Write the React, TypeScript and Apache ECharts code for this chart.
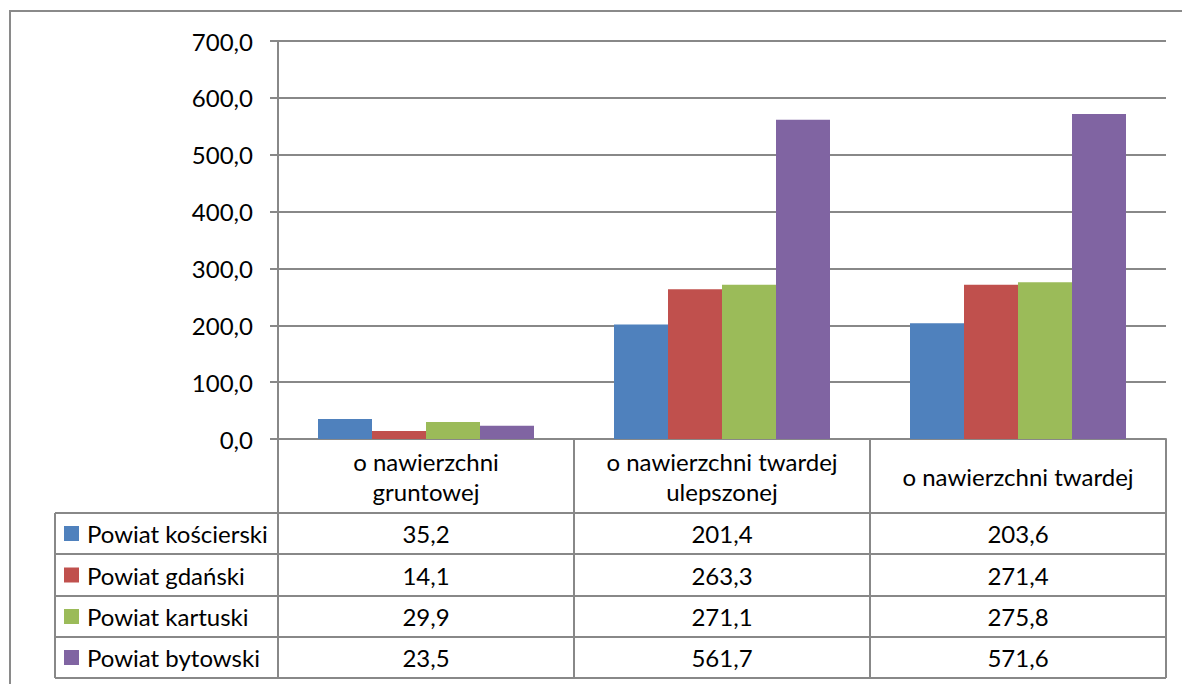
import React, { useEffect, useRef } from "react";
import * as echarts from "echarts";

const categories = ["o nawierzchni\ngruntowej", "o nawierzchni twardej\nulepszonej", "o nawierzchni twardej"];
const seriesNames = ["Powiat kościerski", "Powiat gdański", "Powiat kartuski", "Powiat bytowski"];
const koscierski = [35.2, 201.4, 203.6];
const gdanski = [14.1, 263.3, 271.4];
const kartuski = [29.9, 271.1, 275.8];
const bytowski = [23.5, 561.7, 571.6];
const seriesValues = [koscierski, gdanski, kartuski, bytowski];
const colors = ["#4F81BD", "#C0504D", "#9BBB59", "#8064A2"];
const yTicks = { min: 0, max: 700, interval: 100 };

const FONT = "Lato, 'Open Sans', sans-serif";
const FS = 24;
const fmt = (v: number) => v.toFixed(1).replace(".", ",");

export default function App() {
  const ref = useRef<HTMLDivElement>(null);
  useEffect(() => {
    if (!ref.current) return;
    const chart = echarts.init(ref.current, undefined, { renderer: "svg" });
    const W = 1182;
    const gL = 278, gR = 1166, gT = 41, gB = 439;
    const colW = (gR - gL) / 3;
    const tabL = 55;
    const rowYs = [513, 554, 596, 637, 678];
    const lineColor = "#888888";
    const g: any[] = [];
    const hline = (x1: number, x2: number, y: number) =>
      g.push({ type: "line", shape: { x1, y1: y, x2, y2: y }, style: { stroke: lineColor, lineWidth: 2 }, silent: true });
    const vline = (x: number, y1: number, y2: number) =>
      g.push({ type: "line", shape: { x1: x, y1, x2: x, y2 }, style: { stroke: lineColor, lineWidth: 2 }, silent: true });
    // outer border
    g.push({ type: "rect", shape: { x: 10, y: 11, width: W + 20, height: 700 }, style: { fill: "none", stroke: "#8a8a8a", lineWidth: 2 }, silent: true });
    // table lines
    rowYs.forEach((y) => hline(tabL, gR, y));
    vline(tabL, rowYs[0], rowYs[rowYs.length - 1]);
    vline(gL, gB, rowYs[rowYs.length - 1]);
    for (let i = 1; i <= 3; i++) vline(gL + colW * i, gB, rowYs[rowYs.length - 1]);
    // header labels
    categories.forEach((c, i) => {
      g.push({
        type: "text",
        style: {
          text: c, x: gL + colW * (i + 0.5), y: (gB + rowYs[0]) / 2,
          textAlign: "center", textVerticalAlign: "middle",
          fontSize: FS, fontFamily: FONT, fill: "#000", lineHeight: 30,
        },
        silent: true,
      });
    });
    // rows
    seriesNames.forEach((name, r) => {
      const yc = (rowYs[r] + rowYs[r + 1]) / 2;
      g.push({ type: "rect", shape: { x: 64, y: yc - 7.5, width: 15, height: 15 }, style: { fill: colors[r] }, silent: true });
      g.push({
        type: "text",
        style: { text: name, x: 87, y: yc, textAlign: "left", textVerticalAlign: "middle", fontSize: FS, fontFamily: FONT, fill: "#000" },
        silent: true,
      });
      seriesValues[r].forEach((v, i) => {
        g.push({
          type: "text",
          style: { text: fmt(v), x: gL + colW * (i + 0.5), y: yc, textAlign: "center", textVerticalAlign: "middle", fontSize: FS, fontFamily: FONT, fill: "#000" },
          silent: true,
        });
      });
    });

    chart.setOption({
      animation: false,
      backgroundColor: "#fff",
      grid: { left: gL, right: W - gR, top: gT, bottom: 684 - gB, containLabel: false },
      xAxis: {
        type: "category",
        data: categories,
        axisLine: { show: true, lineStyle: { color: lineColor, width: 2 } },
        axisTick: { show: false },
        axisLabel: { show: false },
        splitLine: { show: false },
      },
      yAxis: {
        type: "value",
        min: yTicks.min,
        max: yTicks.max,
        interval: yTicks.interval,
        axisLine: { show: true, lineStyle: { color: lineColor, width: 2 } },
        axisTick: { show: true, length: 8, lineStyle: { color: lineColor, width: 2 } },
        axisLabel: { formatter: (v: number) => fmt(v), fontSize: FS, fontFamily: FONT, color: "#000", margin: 25 },
        splitLine: { show: true, lineStyle: { color: lineColor, width: 2 } },
      },
      series: seriesNames.map((n, i) => ({
        type: "bar",
        name: n,
        data: seriesValues[i],
        barWidth: 54,
        barGap: "0%",
        itemStyle: { color: colors[i] },
      })),
      graphic: g,
    });
    return () => chart.dispose();
  }, []);
  return <div ref={ref} style={{ position: "fixed", left: 0, top: 0, width: 1182, height: 684 }} />;
}
